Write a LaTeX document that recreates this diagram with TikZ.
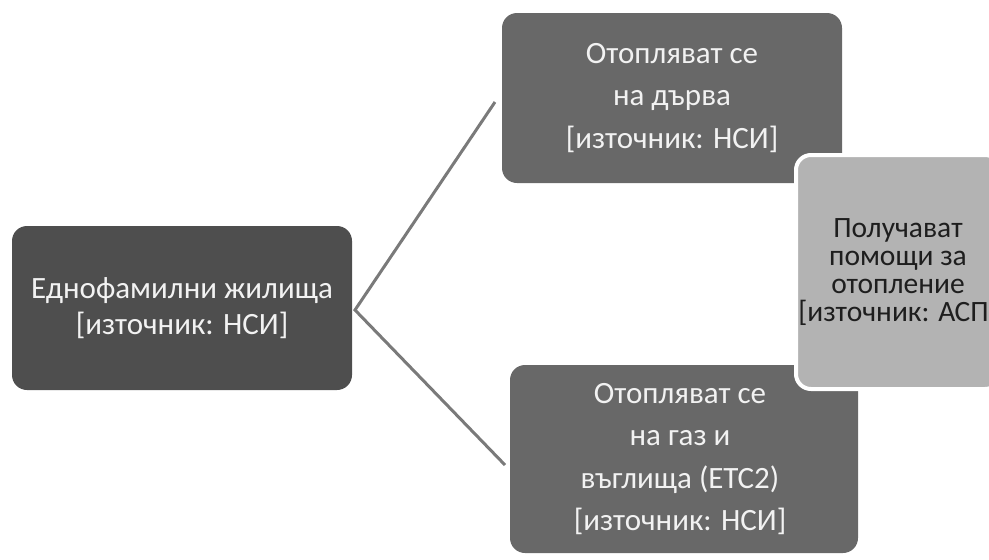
\documentclass[tikz,border=0pt]{standalone}
\usepackage{fontspec}
\setmainfont{Carlito}
\definecolor{darkbox}{HTML}{4E4E4E}
\definecolor{midbox}{HTML}{686868}
\definecolor{lightbox}{HTML}{B3B3B3}
\definecolor{linegray}{HTML}{7A7A7A}
\definecolor{lighttext}{HTML}{F2F2F2}
\definecolor{darktext}{HTML}{1E1E1E}
\begin{document}
\begin{tikzpicture}[x=1pt,y=-1pt,
  box/.style={rectangle, rounded corners=15pt, align=center, inner sep=0pt},
  darkstyle/.style={box, fill=darkbox, text=lighttext, font=\fontsize{31}{36}\selectfont},
  midstyle/.style={box, fill=midbox, text=lighttext, font=\fontsize{31}{42.5}\selectfont},
  lightstyle/.style={box, fill=lightbox, text=darktext, draw=white, line width=4pt, font=\fontsize{29.5}{28}\selectfont},
  conn/.style={draw=linegray, line width=3pt}]
\useasboundingbox (0,0) rectangle (989,560);
\node[darkstyle, minimum width=340pt, minimum height=164pt] (root) at (182,308) {Еднофамилни жилища\\{}[източник: НСИ]};
\node[midstyle, minimum width=340pt, minimum height=170pt] (top) at (672,98) {Отопляват се\\на дърва\\{}[източник: НСИ]};
\node[midstyle, minimum width=348pt, minimum height=188pt] (bottom) at (684,459) {\hspace*{-8pt}Отопляват се\\\hspace*{-8pt}на газ и\\\hspace*{-8pt}въглища (ЕТС2)\\\hspace*{-8pt}[източник: НСИ]};
\node[lightstyle, minimum width=204pt, minimum height=234pt] (aid) at (898,272) {Получават\\помощи за\\отопление\\{}[източник: АСП]};
\coordinate (fork) at (355,310);
\coordinate (topend) at (495,102);
\coordinate (botend) at (505,465);
\draw[conn] (topend) -- (fork) -- (botend);
\end{tikzpicture}
\end{document}
